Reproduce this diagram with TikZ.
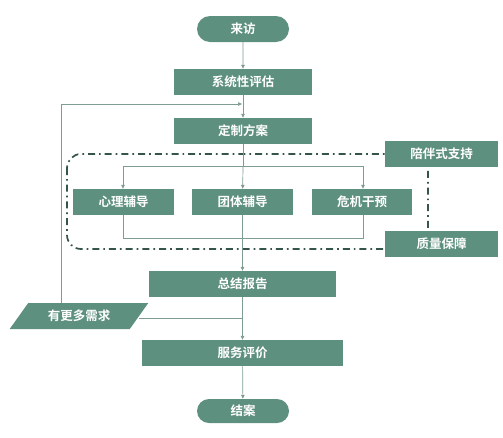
\documentclass[tikz,border=0pt]{standalone}
\usepackage{fontspec}
\setmainfont{Noto Sans CJK SC}[BoldFont={Noto Sans CJK SC Bold}]
\usetikzlibrary{shapes.geometric,shapes.misc,arrows.meta}
\definecolor{boxc}{HTML}{5E9080}
\definecolor{linec}{HTML}{7E9C93}
\definecolor{dashc}{HTML}{35544B}
\tikzset{
  base/.style={fill=boxc, draw=none, text=white, font=\bfseries\fontsize{12.5}{14}\selectfont, inner sep=0pt, anchor=center},
  box/.style={base, rectangle, minimum height=26pt},
  term/.style={base, rounded rectangle, minimum width=92pt, minimum height=26pt},
  para/.style={base, trapezium, trapezium stretches=true, trapezium left angle=46, trapezium right angle=134, minimum width=139pt, minimum height=26pt},
  conn/.style={draw=linec, line width=0.7pt},
  arr/.style={conn, -{Triangle[length=4pt,width=3.5pt]}},
  dashdot/.style={draw=dashc, line width=1.7pt, dash pattern=on 7pt off 4pt on 1.7pt off 4pt, rounded corners=14pt}
}
\begin{document}
\begin{tikzpicture}[x=1pt,y=-1pt]
\useasboundingbox (0,0) rectangle (503,437);
% dash-dot group
\draw[dashdot] (67,154) rectangle (428,249);
\node[term] (start) at (243,29) {来访};
\node[box, minimum width=138pt] (eval) at (243,82) {系统性评估};
\node[box, minimum width=138pt] (plan) at (243,131) {定制方案};
\node[box, minimum width=113pt] (sup) at (441.5,153.5) {陪伴式支持};
\node[box, minimum width=113pt] (qa) at (441.5,243.5) {质量保障};
\node[box, minimum width=101pt] (psy) at (123.5,202) {心理辅导};
\node[box, minimum width=101pt] (grp) at (242.5,202) {团体辅导};
\node[box, minimum width=100pt] (cri) at (362,202) {危机干预};
\node[box, minimum width=187pt] (sum) at (242.5,284) {总结报告};
\node[para] (more) at (79,316) {有更多需求};
\node[box, minimum width=201pt] (rate) at (242.5,353) {服务评价};
\node[term, minimum height=24pt] (end) at (243,411) {结案};
% coordinates
\coordinate (fb) at (243,104);
\coordinate (split) at (243,166);
\coordinate (sl) at (123,166);
\coordinate (sr) at (363,166);
\coordinate (ml) at (123,238);
\coordinate (mr) at (363,238);
\coordinate (jn) at (243,318);
\coordinate (corner) at (61,104);
% connectors
\draw[arr] (start) -- (eval);
\draw[arr] (eval) -- (plan);
\draw[conn] (plan) -- (split);
\draw[arr] (split) -- (grp);
\draw[arr] (sl) -- (psy.north -| sl);
\draw[arr] (sr) -- (cri.north -| sr);
\draw[conn] (sl) -- (sr);
\draw[conn] (psy.south -| ml) -- (ml) -- (mr) -- (cri.south -| mr);
\draw[arr] (grp) -- (sum);
\draw[arr] (sum) -- (rate);
\draw[conn] (more.east |- jn) -- (jn);
\draw[arr] (rate) -- (end);
\draw[arr] (more.north -| corner) -- (corner) -- ([xshift=-1pt]fb);
\end{tikzpicture}
\end{document}
